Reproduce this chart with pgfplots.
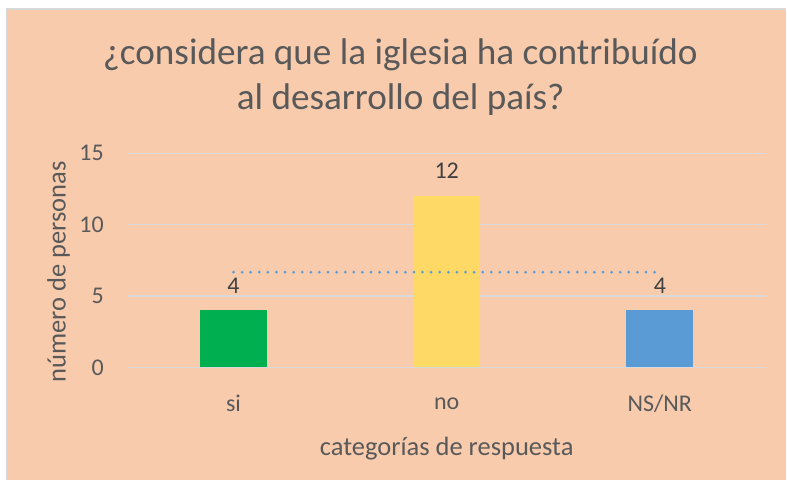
\documentclass[border=0pt]{standalone}
\usepackage{pgfplots}
\pgfplotsset{compat=1.18}
\usepackage{fontspec}
\setmainfont{Carlito}
\definecolor{bg}{HTML}{F8CBAD}
\definecolor{gridc}{HTML}{D9D9D9}
\definecolor{txt}{HTML}{595959}
\definecolor{lbl}{HTML}{404040}
\definecolor{cgreen}{HTML}{00B050}
\definecolor{cyellow}{HTML}{FFD966}
\definecolor{cblue}{HTML}{5B9BD5}
\begin{document}
\begin{tikzpicture}[x=1pt,y=1pt]
\fill[white] (0,0) rectangle (787,480);
\fill[bg] (6.5,0) rectangle (787,471);
\draw[gridc, line width=1.2pt] (6.5,0) -- (6.5,471) -- (787,471);
\useasboundingbox (0,0) rectangle (787,480);
\node[text=txt, font=\fontsize{37.2}{44}\selectfont, anchor=base] at (400.5,415) {¿considera que la iglesia ha contribuído};
\node[text=txt, font=\fontsize{37.2}{44}\selectfont, anchor=base] at (401,370) {al desarrollo del país?};
\begin{axis}[
  at={(127pt,112.3pt)}, anchor=south west,
  scale only axis, width=640pt, height=214.4pt,
  xmin=-0.5, xmax=2.5, ymin=0, ymax=15,
  clip=false,
  axis line style={draw=none},
  tick style={draw=none},
  ymajorgrids, grid style={gridc, line width=1.3pt},
  xtick={0,1,2}, xticklabels={si,no,NS/NR},
  ytick={0,5,10,15},
  /pgf/number format/assume math mode=true,
  ticklabel style={font=\fontsize{24}{28}\selectfont, text=txt},
  yticklabel style={anchor=east, inner sep=0pt, xshift=-23pt},
  xticklabel style={anchor=center, inner sep=0pt, yshift=-36pt},
  xlabel={categorías de respuesta},
  ylabel={número de personas},
  label style={font=\fontsize{26.5}{30}\selectfont, text=txt},
  xlabel style={at={(axis description cs:0.5,-0.377)}, anchor=center},
  ylabel style={at={(axis description cs:-0.107,0.445)}, anchor=center, rotate=0},
  every node near coord/.append style={anchor=center, yshift=25pt, font=\fontsize{24}{28}\selectfont, text=lbl},
]
\addplot[ybar, bar width=67pt, bar shift=0pt, fill=cgreen, draw=none, nodes near coords] coordinates {(0,4)};
\addplot[ybar, bar width=67pt, bar shift=0pt, fill=cyellow, draw=none, nodes near coords] coordinates {(1,12)};
\addplot[ybar, bar width=67pt, bar shift=0pt, fill=cblue, draw=none, nodes near coords] coordinates {(2,4)};
\addplot[cblue, line width=3pt, line cap=round, dash pattern=on 0pt off 8.6pt] coordinates {(0,6.6667) (2,6.6667)};
\end{axis}
\end{tikzpicture}
\end{document}
